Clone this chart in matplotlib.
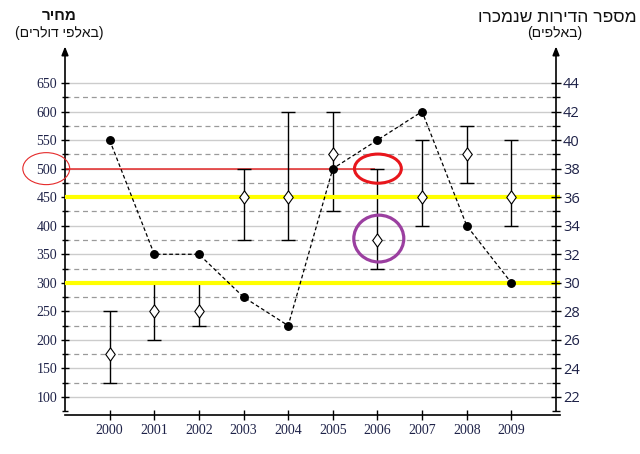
import matplotlib
matplotlib.use("Agg")
import matplotlib.pyplot as plt
from matplotlib.patches import Ellipse
from matplotlib.path import Path

# ---------------- data ----------------
years = [2000, 2001, 2002, 2003, 2004, 2005, 2006, 2007, 2008, 2009]
price_mid = [175, 250, 250, 450, 450, 525, 375, 450, 525, 450]
price_low = [125, 200, 225, 375, 375, 425, 325, 400, 475, 400]
price_high = [250, 300, 300, 500, 600, 600, 500, 550, 575, 550]
sold = [40, 32, 32, 29, 27, 38, 40, 42, 34, 30]

left_ticks = [100, 150, 200, 250, 300, 350, 400, 450, 500, 550, 600, 650]
right_ticks = [22, 24, 26, 28, 30, 32, 34, 36, 38, 40, 42, 44]

red_line_level = 500
yellow_levels = [450, 300]

title_left = "מחיר"
sub_left = "(באלפי דולרים)"
title_right = "מספר הדירות שנמכרו"
sub_right = "(באלפים)"


def vis(s):
    """Reverse RTL string for visual LTR rendering (mirror parentheses)."""
    r = s[::-1]
    return r.translate(str.maketrans({"(": ")", ")": "("}))


W, H = 640, 454
fig = plt.figure(figsize=(W / 100, H / 100), dpi=100)

# pixel mapping: x=1999 -> 65px, x=2010 -> 556px ; y=100 -> 397px, y=650 -> 83px
ys = (397 - 83) / 550.0
y_lo, y_hi = 60, 720
top_px = 397 - (y_hi - 100) * ys
bot_px = 397 + (100 - y_lo) * ys
ax = fig.add_axes([65 / W, (H - bot_px) / H, 491 / W, (bot_px - top_px) / H])
ax.set_xlim(1999, 2010)
ax.set_ylim(y_lo, y_hi)

twin = ax.twinx()
twin.set_ylim(22 + (y_lo - 100) / 25.0, 22 + (y_hi - 100) / 25.0)

# ---------------- grid ----------------
for v in left_ticks:
    ax.axhline(v, color="#cccccc", lw=1.0, zorder=1)
for v in left_ticks[:-1]:
    ax.axhline(v + 25, color="#9a9a9a", lw=0.9, ls=(0, (4, 3)), zorder=1)

# ---------------- highlight lines ----------------
ax.plot([1999, 2005.95], [red_line_level, red_line_level], color="#e52a2a",
        lw=1.1, zorder=2, solid_capstyle="butt")
for lv in yellow_levels:
    ax.plot([1999, 2010.08], [lv, lv], color="#ffff00", lw=3.0, zorder=4,
            solid_capstyle="butt", clip_on=False)

# ---------------- price error bars & diamonds ----------------
yerr = [[m - l for m, l in zip(price_mid, price_low)],
        [h - m for h, m in zip(price_high, price_mid)]]
ax.errorbar(years, price_mid, yerr=yerr, fmt="none", ecolor="black",
            elinewidth=1.0, capsize=4.7, capthick=1.0, zorder=3)
diamond = Path([(0, -1), (0.72, 0), (0, 1), (-0.72, 0), (0, -1)],
               [Path.MOVETO, Path.LINETO, Path.LINETO, Path.LINETO, Path.CLOSEPOLY])
ax.plot(years, price_mid, ls="none", marker=diamond, ms=9.5, mfc="white",
        mec="black", mew=0.8, zorder=5)

# ---------------- sold (right axis) ----------------
twin.plot(years, sold, color="black", ls=(0, (3, 2)), lw=0.9, marker="o",
          ms=5.4, zorder=6)

# ---------------- ellipses ----------------
ax.add_patch(Ellipse((1998.58, 500), 1.05, 56, fill=False, ec="#e52a2a",
                     lw=0.8, clip_on=False, zorder=6))
ax.add_patch(Ellipse((2006.01, 500), 1.05, 51, fill=False, ec="#e8161c",
                     lw=2.2, clip_on=False, zorder=6))
ax.add_patch(Ellipse((2006.03, 377.5), 1.12, 82, fill=False, ec="#9b3fa0",
                     lw=2.3, clip_on=False, zorder=6))

# ---------------- axes / spines ----------------
tick_col = "#1e2248"
for s in ["top", "right"]:
    ax.spines[s].set_visible(False)
for s in ["top", "left", "bottom"]:
    twin.spines[s].set_visible(False)

ax.spines["left"].set_bounds(75, 706)
ax.spines["left"].set_linewidth(1.2)
ax.spines["bottom"].set_position(("data", 68.5))
ax.spines["bottom"].set_bounds(1999, 2010.1)
ax.spines["bottom"].set_linewidth(1.2)
twin.spines["right"].set_bounds(21, 22 + (706 - 100) / 25.0)
twin.spines["right"].set_linewidth(1.2)

ax.annotate("", xy=(1999, 714), xytext=(1999, 700), annotation_clip=False,
            arrowprops=dict(arrowstyle="-|>,head_length=0.5,head_width=0.2",
                            lw=1.2, color="black", mutation_scale=10,
                            shrinkA=0, shrinkB=0))
twin.annotate("", xy=(2010, 22 + (714 - 100) / 25.0),
              xytext=(2010, 22 + (700 - 100) / 25.0), annotation_clip=False,
              arrowprops=dict(arrowstyle="-|>,head_length=0.5,head_width=0.2",
                              lw=1.2, color="black", mutation_scale=10,
                              shrinkA=0, shrinkB=0))

ax.set_yticks(left_ticks)
ax.set_yticks([v - 25 for v in left_ticks], minor=True)
ax.set_yticklabels([str(v) for v in left_ticks], family="Liberation Serif",
                   fontsize=10)
ax.tick_params(axis="y", which="major", direction="inout", length=5.5,
               width=1.0, pad=3.0, colors="black", labelcolor=tick_col)
ax.tick_params(axis="y", which="minor", direction="inout", length=4.5,
               width=1.0, colors="black")

ax.set_xticks(years)
ax.set_xticklabels([str(y) for y in years], family="Liberation Serif",
                   fontsize=10)
ax.tick_params(axis="x", which="major", direction="inout", length=7.5,
               width=1.0, pad=3.0, colors="black", labelcolor=tick_col)

twin.set_yticks(right_ticks)
twin.set_yticks([v - 1 for v in right_ticks], minor=True)
twin.set_yticklabels([str(v) for v in right_ticks], family="Open Sans",
                     fontsize=10.5)
twin.tick_params(axis="y", which="major", direction="inout", length=7,
                 width=1.0, pad=1.5, colors="black", labelcolor=tick_col)
twin.tick_params(axis="y", which="minor", direction="inout", length=5.8,
                 width=1.0, colors="black")

# ---------------- titles ----------------
heb = ["Liberation Sans", "DejaVu Sans"]
fig.text(59.5 / W, 1 - 16 / H, vis(title_left), ha="center", va="center",
         fontsize=11, fontweight="bold", family=heb, color="#111111")
fig.text(59 / W, 1 - 33 / H, vis(sub_left), ha="center", va="center",
         fontsize=10, family=heb, color="#111111")
fig.text(557 / W, 1 - 17 / H, vis(title_right), ha="center", va="center",
         fontsize=12.5, family=heb, color="#111111")
fig.text(555 / W, 1 - 33 / H, vis(sub_right), ha="center", va="center",
         fontsize=10, family=heb, color="#111111")

fig.savefig("out.png", dpi=100)
